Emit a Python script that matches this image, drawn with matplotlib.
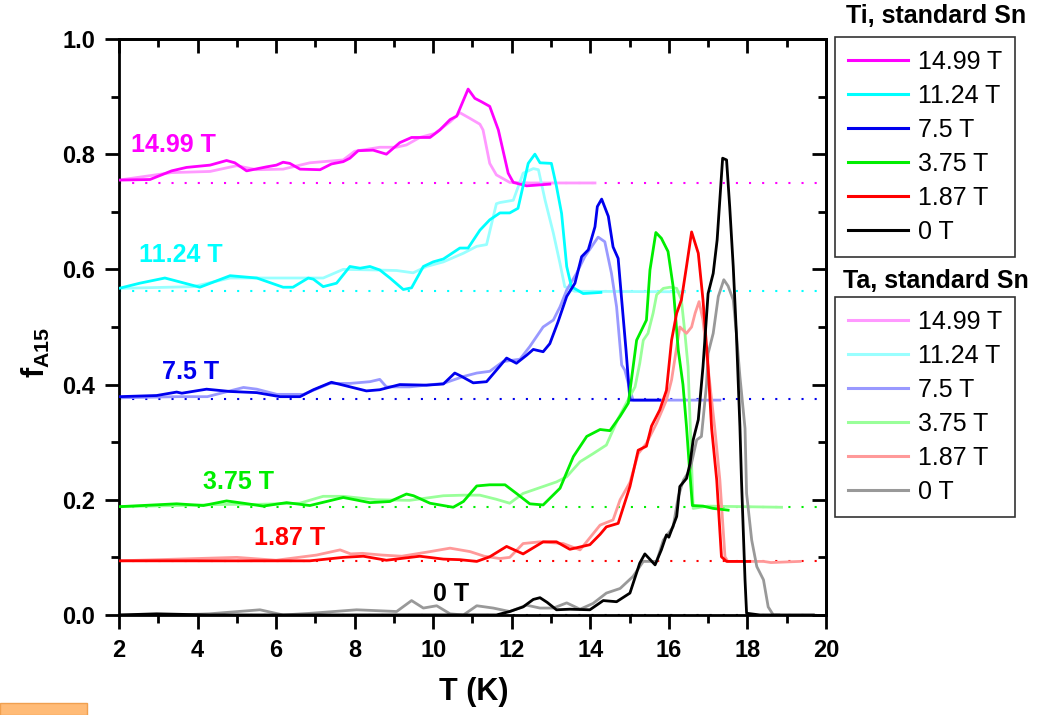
import numpy as np
import matplotlib
matplotlib.use('Agg')
from matplotlib import pyplot as plt
from matplotlib.lines import Line2D
from matplotlib.patches import Rectangle

plt.rcParams['font.family'] = ['Liberation Sans', 'DejaVu Sans']
plt.rcParams['mathtext.fontset'] = 'custom'
plt.rcParams['mathtext.bf'] = 'Liberation Sans:bold'
plt.rcParams['mathtext.rm'] = 'Liberation Sans'

###########################################################################
# Data: T (K) and f_A15, Ti and Ta samples.
###########################################################################
fields = ['14.99 T', '11.24 T', '7.5 T', '3.75 T', '1.87 T', '0 T']
baselines = [0.7495, 0.562, 0.375, 0.1875, 0.0935, 0.0]

ti_1499_T = [2.0, 2.79, 3.34, 3.72, 4.32, 4.74, 4.95, 5.25, 5.76, 6.01, 6.18, 6.35, 6.61, 7.12, 7.41, 7.71, 7.88,
             8.09, 8.47, 8.81, 9.15, 9.45, 9.92, 10.17, 10.43, 10.60, 10.89, 11.06, 11.23, 11.44, 11.66, 11.91,
             12.04, 12.38, 12.97]
ti_1499_f = [0.755, 0.756, 0.771, 0.777, 0.781, 0.789, 0.785, 0.771, 0.778, 0.781, 0.786, 0.784, 0.774, 0.773,
             0.783, 0.787, 0.793, 0.806, 0.807, 0.800, 0.820, 0.829, 0.829, 0.842, 0.860, 0.866, 0.913, 0.897,
             0.891, 0.883, 0.842, 0.767, 0.751, 0.745, 0.748]
ta_1499_T = [2.0, 3.34, 4.32, 5.0, 5.5, 6.18, 6.86, 7.71, 8.0, 8.64, 9.06, 9.32, 9.66, 10.04, 10.43, 10.68, 10.94,
             11.19, 11.27, 11.44, 11.61, 11.95, 12.46, 14.12]
ta_1499_f = [0.755, 0.768, 0.770, 0.780, 0.773, 0.774, 0.785, 0.790, 0.805, 0.812, 0.812, 0.816, 0.829, 0.836,
             0.856, 0.872, 0.862, 0.852, 0.842, 0.784, 0.764, 0.751, 0.750, 0.750]

ti_1124_T = [2.0, 2.53, 3.17, 3.34, 4.06, 4.83, 5.51, 6.18, 6.43, 6.82, 6.95, 7.20, 7.54, 7.88, 8.14, 8.39, 8.64,
             8.90, 9.24, 9.45, 9.75, 10.0, 10.26, 10.68, 10.89, 11.19, 11.44, 11.70, 11.95, 12.16, 12.42, 12.59,
             12.72, 13.01, 13.14, 13.27, 13.40, 13.52, 13.82, 14.27]
ti_1124_f = [0.567, 0.576, 0.585, 0.582, 0.569, 0.589, 0.585, 0.569, 0.569, 0.585, 0.583, 0.570, 0.576, 0.605,
             0.602, 0.605, 0.599, 0.585, 0.565, 0.568, 0.605, 0.613, 0.618, 0.637, 0.637, 0.668, 0.686, 0.698,
             0.698, 0.706, 0.784, 0.800, 0.785, 0.784, 0.744, 0.697, 0.605, 0.570, 0.558, 0.560]
ta_1124_T = [2.0, 3.89, 4.83, 6.18, 7.2, 7.71, 8.5, 9.07, 9.49, 9.83, 10.26, 10.77, 11.11, 11.36, 11.61, 11.70,
             12.04, 12.29, 12.55, 12.68, 12.85, 13.06, 13.23, 13.35, 13.6, 16.40]
ta_1124_f = [0.567, 0.570, 0.585, 0.585, 0.585, 0.600, 0.599, 0.598, 0.594, 0.605, 0.613, 0.628, 0.640, 0.643,
             0.714, 0.716, 0.720, 0.767, 0.775, 0.773, 0.720, 0.663, 0.610, 0.570, 0.562, 0.561]

ti_75_T = [2.0, 2.96, 3.47, 3.6, 4.23, 4.83, 5.51, 6.10, 6.61, 6.95, 7.41, 7.71, 8.30, 8.64, 9.15, 9.83, 10.26,
           10.55, 10.7, 11.02, 11.36, 11.61, 11.87, 12.12, 12.38, 12.55, 12.80, 12.97, 13.18, 13.40, 13.61, 13.78,
           13.95, 14.12, 14.18, 14.29, 14.46, 14.58, 14.71, 14.80, 14.91, 15.01, 15.77]
ti_75_f = [0.379, 0.381, 0.387, 0.385, 0.392, 0.388, 0.386, 0.379, 0.379, 0.391, 0.404, 0.399, 0.389, 0.391,
           0.400, 0.399, 0.401, 0.420, 0.415, 0.403, 0.405, 0.425, 0.446, 0.437, 0.451, 0.461, 0.457, 0.471,
           0.509, 0.553, 0.576, 0.622, 0.634, 0.674, 0.709, 0.722, 0.692, 0.639, 0.619, 0.547, 0.460, 0.373, 0.373]
ta_75_T = [2.0, 3.47, 4.25, 5.17, 5.51, 6.02, 6.70, 7.37, 7.88, 8.39, 8.64, 8.81, 9.40, 10.26, 10.77, 11.11, 11.44,
           11.78, 12.21, 12.46, 12.80, 13.06, 13.23, 13.40, 13.65, 13.86, 14.03, 14.20, 14.37, 14.54, 14.67, 14.80,
           14.88, 15.01, 15.09, 17.30]
ta_75_f = [0.377, 0.379, 0.379, 0.395, 0.392, 0.383, 0.383, 0.402, 0.402, 0.405, 0.409, 0.396, 0.396, 0.402,
           0.414, 0.420, 0.423, 0.440, 0.444, 0.466, 0.500, 0.512, 0.535, 0.564, 0.593, 0.622, 0.639, 0.656,
           0.648, 0.593, 0.535, 0.434, 0.425, 0.391, 0.373, 0.373]

ti_375_T = [2.0, 3.47, 4.15, 4.74, 5.17, 5.67, 6.27, 6.86, 7.71, 8.39, 8.90, 9.32, 9.5, 9.92, 10.51, 10.77, 11.11,
            11.44, 11.83, 12.12, 12.46, 12.80, 13.23, 13.57, 13.91, 14.25, 14.50, 14.76, 14.97, 15.18, 15.43, 15.52,
            15.67, 15.81, 15.98, 16.11, 16.24, 16.36, 16.45, 16.52, 16.60, 16.87, 17.13, 17.51]
ti_375_f = [0.188, 0.193, 0.190, 0.198, 0.194, 0.189, 0.195, 0.190, 0.204, 0.195, 0.197, 0.210, 0.207, 0.194,
            0.187, 0.197, 0.224, 0.226, 0.226, 0.211, 0.193, 0.191, 0.220, 0.275, 0.310, 0.322, 0.320, 0.345,
            0.368, 0.477, 0.512, 0.599, 0.664, 0.654, 0.631, 0.570, 0.460, 0.400, 0.327, 0.260, 0.190, 0.189,
            0.185, 0.182]
ta_375_T = [2.0, 3.47, 4.74, 5.5, 6.6, 7.2, 7.71, 8.56, 9.4, 10.26, 10.77, 11.19, 11.6, 11.95, 12.29, 12.80, 13.14,
            13.40, 13.74, 14.07, 14.41, 14.71, 14.92, 15.14, 15.26, 15.35, 15.47, 15.60, 15.69, 15.86, 16.03, 16.20,
            16.32, 16.41, 16.49, 16.54, 16.62, 17.0, 18.87]
ta_375_f = [0.188, 0.190, 0.192, 0.192, 0.194, 0.206, 0.206, 0.200, 0.199, 0.207, 0.208, 0.208, 0.201, 0.194,
            0.211, 0.223, 0.231, 0.240, 0.266, 0.280, 0.295, 0.341, 0.368, 0.396, 0.437, 0.477, 0.489, 0.524,
            0.556, 0.567, 0.569, 0.567, 0.547, 0.489, 0.431, 0.339, 0.185, 0.189, 0.187]

ti_187_T = [2.0, 4.32, 6.86, 7.71, 8.22, 8.81, 9.66, 10.26, 10.68, 11.11, 11.44, 11.87, 12.29, 12.80, 13.14, 13.48,
            13.99, 14.25, 14.41, 14.71, 15.01, 15.22, 15.43, 15.56, 15.77, 15.94, 16.07, 16.20, 16.32, 16.45, 16.58,
            16.75, 16.87, 17.00, 17.09, 17.22, 17.34, 17.47, 18.06]
ti_187_f = [0.094, 0.094, 0.094, 0.100, 0.102, 0.095, 0.102, 0.097, 0.096, 0.093, 0.101, 0.119, 0.106, 0.127,
            0.127, 0.114, 0.122, 0.140, 0.153, 0.159, 0.223, 0.286, 0.293, 0.328, 0.356, 0.390, 0.477, 0.524,
            0.547, 0.605, 0.665, 0.628, 0.547, 0.431, 0.324, 0.234, 0.101, 0.093, 0.093]
ta_187_T = [2.0, 5.0, 6.0, 7.03, 7.63, 7.9, 8.2, 8.7, 9.2, 9.92, 10.43, 10.94, 11.3, 11.70, 11.95, 12.29, 12.72,
            13.31, 13.74, 14.25, 14.58, 14.76, 15.01, 15.22, 15.43, 15.69, 15.94, 16.07, 16.28, 16.45, 16.58, 16.67,
            16.77, 16.87, 16.96, 17.09, 17.17, 17.30, 17.43, 17.5, 18.41, 18.6, 19.34]
ta_187_f = [0.094, 0.100, 0.095, 0.104, 0.113, 0.106, 0.107, 0.104, 0.102, 0.110, 0.116, 0.110, 0.102, 0.098,
            0.100, 0.124, 0.127, 0.124, 0.113, 0.156, 0.165, 0.200, 0.230, 0.280, 0.298, 0.333, 0.373, 0.408,
            0.500, 0.489, 0.500, 0.524, 0.544, 0.512, 0.454, 0.373, 0.324, 0.234, 0.101, 0.093, 0.093, 0.091, 0.093]

ti_0_T = [2.0, 2.96, 4.3, 7.7, 11.11, 11.61, 11.95, 12.29, 12.55, 12.72, 12.9, 13.14, 13.48, 13.99, 14.33, 14.67,
          15.01, 15.26, 15.39, 15.65, 15.81, 15.94, 16.0, 16.20, 16.28, 16.45, 16.54, 16.62, 16.75, 16.87, 17.00,
          17.13, 17.23, 17.37, 17.47, 17.55, 17.64, 17.72, 17.81, 17.85, 17.94, 17.98, 18.32, 19.0, 19.68]
ti_0_f = [0.0, 0.002, 0.0, 0.0, 0.0, 0.0, 0.006, 0.014, 0.027, 0.030, 0.022, 0.009, 0.010, 0.009, 0.025, 0.023,
          0.038, 0.090, 0.106, 0.087, 0.113, 0.139, 0.135, 0.171, 0.223, 0.237, 0.263, 0.304, 0.339, 0.431, 0.558,
          0.593, 0.651, 0.793, 0.790, 0.709, 0.605, 0.489, 0.327, 0.234, 0.061, 0.003, 0.0, 0.0, 0.0]
ta_0_T = [2.0, 3.47, 4.3, 5.59, 6.18, 6.9, 8.05, 9.07, 9.45, 9.75, 10.09, 10.43, 10.77, 11.11, 11.53, 11.95, 12.38,
          12.72, 13.06, 13.40, 13.74, 14.07, 14.41, 14.76, 15.09, 15.35, 15.69, 15.86, 16.11, 16.24, 16.37, 16.54,
          16.71, 16.83, 16.96, 17.00, 17.13, 17.26, 17.40, 17.51, 17.64, 17.72, 17.81, 17.94, 17.98, 18.11, 18.24,
          18.41, 18.53, 18.66, 18.8]
ta_0_f = [0.0, 0.0, 0.002, 0.009, 0.0, 0.003, 0.009, 0.006, 0.025, 0.012, 0.016, 0.002, 0.0, 0.016, 0.012, 0.006,
          0.017, 0.012, 0.012, 0.021, 0.010, 0.020, 0.038, 0.046, 0.067, 0.093, 0.093, 0.130, 0.153, 0.205, 0.234,
          0.252, 0.304, 0.310, 0.400, 0.454, 0.489, 0.553, 0.582, 0.571, 0.547, 0.489, 0.414, 0.324, 0.211, 0.130,
          0.084, 0.061, 0.014, 0.0, 0.0]

ti_curves = [(ti_1499_T, ti_1499_f), (ti_1124_T, ti_1124_f), (ti_75_T, ti_75_f),
             (ti_375_T, ti_375_f), (ti_187_T, ti_187_f), (ti_0_T, ti_0_f)]
ta_curves = [(ta_1499_T, ta_1499_f), (ta_1124_T, ta_1124_f), (ta_75_T, ta_75_f),
             (ta_375_T, ta_375_f), (ta_187_T, ta_187_f), (ta_0_T, ta_0_f)]

ti_colors = ['#FF00FF', '#00FFFF', '#0000EE', '#00EE00', '#FF0000', '#000000']
ta_colors = ['#FF99FF', '#99FFFF', '#9999FF', '#99FF99', '#FF9999', '#999999']

# label positions (T, f) for the field labels inside the plot
label_T = [2.3, 2.5, 3.1, 4.15, 5.45, 10.0]
label_f = [0.816, 0.625, 0.422, 0.231, 0.134, 0.036]

###########################################################################
# Plot.
###########################################################################
fig = plt.figure(figsize=(10.48, 7.15), dpi=100)
ax = fig.add_axes([0.1135, 0.1399, 0.6746, 0.8056])

for i in range(len(fields)):
  ax.plot([2, 20], [baselines[i], baselines[i]], color=ti_colors[i], lw=1.5,
          linestyle=(0, (1, 5.3)), zorder=1)

for i in range(len(fields)):
  ax.plot(ta_curves[i][0], ta_curves[i][1], color=ta_colors[i], lw=2.0, zorder=2)
for i in range(len(fields)):
  ax.plot(ti_curves[i][0], ti_curves[i][1], color=ti_colors[i], lw=2.0, zorder=3)

for i in range(len(fields)):
  ax.text(label_T[i], label_f[i], fields[i], color=ti_colors[i], fontsize=18,
          fontweight='bold', ha='left', va='center')

ax.set_xlim(2, 20)
ax.set_ylim(0, 1.0)
ax.set_xticks(np.arange(2, 21, 2))
ax.set_xticks(np.arange(3, 20, 2), minor=True)
ax.set_yticks(np.arange(0, 1.01, 0.2))
ax.set_yticks(np.arange(0.1, 1.0, 0.2), minor=True)
ax.set_yticklabels(['0.0', '0.2', '0.4', '0.6', '0.8', '1.0'])
ax.tick_params(which='major', direction='out', length=10, width=2, labelsize=17, pad=7)
ax.tick_params(which='minor', direction='out', length=6, width=2)
for lab in ax.get_xticklabels() + ax.get_yticklabels():
  lab.set_fontweight('bold')
for sp in ax.spines.values():
  sp.set_linewidth(2)

# top and right ticks point inward
top = ax.secondary_xaxis('top')
top.set_xticks(np.arange(2, 21, 2))
top.set_xticks(np.arange(3, 20, 2), minor=True)
top.tick_params(which='major', direction='in', length=10, width=2, labeltop=False)
top.tick_params(which='minor', direction='in', length=6, width=2)
right = ax.secondary_yaxis('right')
right.set_yticks(np.arange(0, 1.01, 0.2))
right.set_yticks(np.arange(0.1, 1.0, 0.2), minor=True)
right.tick_params(which='major', direction='in', length=10, width=2, labelright=False)
right.tick_params(which='minor', direction='in', length=6, width=2)
for s in [top, right]:
  for sp in s.spines.values():
    sp.set_linewidth(2)

ax.set_xlabel('T (K)', fontsize=22, fontweight='bold')
ax.xaxis.set_label_coords(0.502, -0.108)
fig.text(36 / 1048, 1 - 352 / 715, r'$\mathbf{f}_{\mathbf{A15}}$', fontsize=22,
         rotation=90, ha='center', va='center')

# legends with titles above the boxes
ti_handles = [Line2D([], [], color=c, lw=2.2) for c in ti_colors]
ta_handles = [Line2D([], [], color=c, lw=2.2) for c in ta_colors]
for handles, y_box, title, y_title in [(ti_handles, 1 - 37 / 715, 'Ti, standard Sn', 1 - 16 / 715),
                                       (ta_handles, 1 - 297 / 715, 'Ta, standard Sn', 1 - 281 / 715)]:
  leg = fig.legend(handles, fields, loc='upper left', bbox_to_anchor=(835 / 1048, y_box),
                   borderaxespad=0, fontsize=18, handlelength=2.4, handletextpad=0.38,
                   labelspacing=0.40, borderpad=0.52, frameon=True, fancybox=False)
  leg.get_frame().set_edgecolor('black')
  leg.get_frame().set_linewidth(1.2)
  fig.text(936 / 1048, y_title, title, fontsize=18, fontweight='bold', ha='center', va='center')

# orange box at bottom left corner
fig.patches.append(Rectangle((0, 0), 87 / 1048, 12 / 715, transform=fig.transFigure,
                             facecolor='#FFBB77', edgecolor='#F0A050', lw=1.0))

plt.savefig('out.png', dpi=100)
